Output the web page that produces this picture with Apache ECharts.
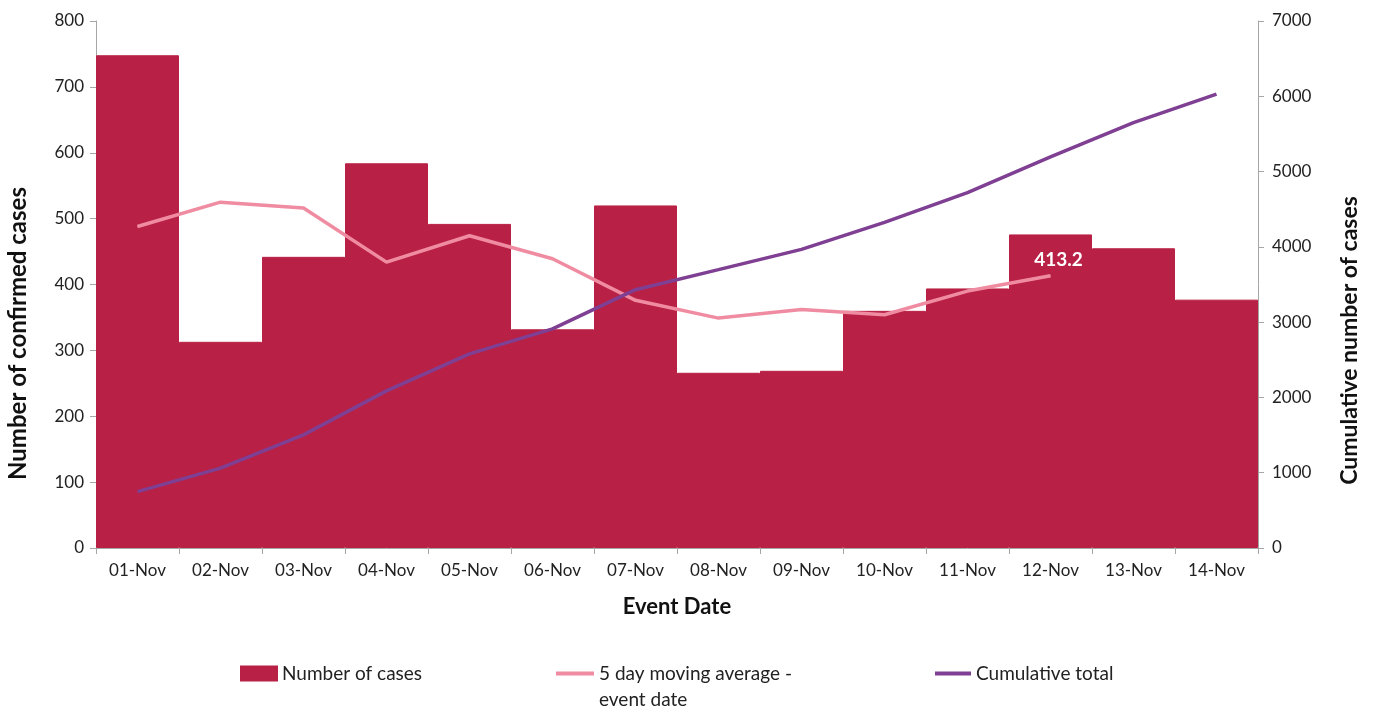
<!DOCTYPE html>
<html>
<head>
<meta charset="utf-8">
<script src="https://cdn.jsdelivr.net/npm/echarts@6/dist/echarts.min.js"></script>
<style>html,body{margin:0;padding:0;background:#fff}#c{width:1378px;height:716px}</style>
</head>
<body>
<div id="c"></div>
<script>
var categories = ['01-Nov','02-Nov','03-Nov','04-Nov','05-Nov','06-Nov','07-Nov','08-Nov','09-Nov','10-Nov','11-Nov','12-Nov','13-Nov','14-Nov'];
var cases = [748, 313, 442, 584, 492, 332, 520, 266, 269, 360, 394, 476, 455, 377];
var movingAvg = [488, 525, 516, 434, 474, 439, 376, 349, 362, 354, 390, 413.2];
var cumulative = [748, 1061, 1503, 2087, 2579, 2911, 3431, 3697, 3966, 4326, 4720, 5196, 5651, 6028];
var leftTicks = [0, 800, 100];
var rightTicks = [0, 7000, 1000];

var FONT = 'Lato, "Open Sans", sans-serif';
var axisLine = {show: true, lineStyle: {color: '#a6a6a6', width: 1}};
var axisTick = {show: true, length: 6, lineStyle: {color: '#a6a6a6'}};
var legendText = {fontSize: 19, color: '#222', fontFamily: FONT};
var chart = echarts.init(document.getElementById('c'));
chart.setOption({
  animation: false,
  textStyle: {fontFamily: FONT},
  grid: {left: 96, right: 120, top: 21, bottom: 168, containLabel: false, outerBoundsMode: 'none'},
  legend: [
    {data: ['Number of cases'], left: 240, top: 664, padding: 0, icon: 'rect', itemWidth: 36, itemHeight: 14,
     textStyle: legendText},
    {data: ['5 day moving average - event date'], left: 556, top: 664, padding: 0, icon: 'rect', itemWidth: 38, itemHeight: 4,
     formatter: function(){ return '5 day moving average -'; },
     textStyle: legendText},
    {data: ['Cumulative total'], left: 935, top: 664, padding: 0, icon: 'rect', itemWidth: 36, itemHeight: 4,
     textStyle: legendText}
  ],
  graphic: [
    {type: 'text', left: 599, top: 690, style: {text: 'event date', fontSize: 19, fill: '#222', fontFamily: FONT}}
  ],
  xAxis: {
    type: 'category', data: categories,
    name: 'Event Date', nameLocation: 'middle', nameGap: 48,
    nameTextStyle: {fontSize: 22, fontWeight: 'bold', color: '#111', fontFamily: FONT},
    axisLine: axisLine, axisTick: axisTick,
    axisLabel: {fontSize: 17, color: '#222', margin: 14, fontFamily: FONT}
  },
  yAxis: [
    {type: 'value', min: leftTicks[0], max: leftTicks[1], interval: leftTicks[2],
     name: 'Number of confirmed cases', nameLocation: 'middle', nameGap: 66, nameRotate: 90,
     nameTextStyle: {fontSize: 24, fontWeight: 'bold', color: '#111', fontFamily: FONT, padding: [0, 98, 0, 0]},
     axisLine: axisLine, axisTick: axisTick, splitLine: {show: false},
     axisLabel: {fontSize: 17, color: '#222', margin: 12, fontFamily: FONT}},
    {type: 'value', min: rightTicks[0], max: rightTicks[1], interval: rightTicks[2], position: 'right',
     name: 'Cumulative number of cases', nameLocation: 'middle', nameGap: 80, nameRotate: 90,
     nameTextStyle: {fontSize: 23, fontWeight: 'bold', color: '#111', fontFamily: FONT, padding: [0, 112, 0, 0]},
     axisLine: axisLine, axisTick: axisTick, splitLine: {show: false},
     axisLabel: {fontSize: 17, color: '#222', margin: 14, fontFamily: FONT,
       formatter: function(v){ return String(v); }}}
  ],
  series: [
    {name: 'Number of cases', type: 'bar', data: cases, barCategoryGap: '0%',
     itemStyle: {color: '#b92045', borderColor: '#b92045', borderWidth: 1}},
    {name: '5 day moving average - event date', type: 'line', data: movingAvg,
     symbol: 'circle', symbolSize: 1, showSymbol: true,
     lineStyle: {color: '#f08ca2', width: 3.5}, itemStyle: {color: '#f08ca2'},
     label: {show: true, position: 'top', distance: 6, offset: [8, 0], color: '#fff', fontWeight: 'bold', fontSize: 19,
       fontFamily: FONT,
       formatter: function(p){ return p.dataIndex === movingAvg.length - 1 ? p.value.toFixed(1) : ''; }}},
    {name: 'Cumulative total', type: 'line', yAxisIndex: 1, data: cumulative, symbol: 'none',
     lineStyle: {color: '#7f3f93', width: 3.5}, itemStyle: {color: '#7f3f93'}}
  ]
});
</script>
</body>
</html>
